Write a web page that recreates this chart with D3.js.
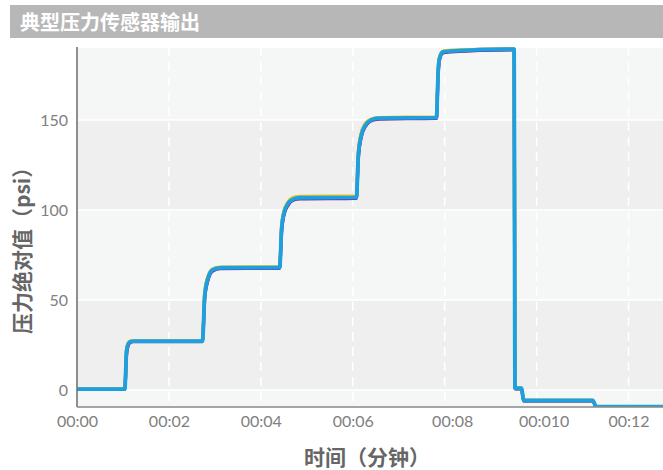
<!DOCTYPE html>
<html>
<head>
<meta charset="utf-8">
<script src="https://cdn.jsdelivr.net/npm/d3@7"></script>
<style>
  html, body { margin: 0; padding: 0; background: #fff; }
  svg { display: block; }
</style>
</head>
<body>
<div id="chart"></div>
<script>
// chart data
const title = "典型压力传感器输出";
const xTitle = "时间（分钟）";
const yTitle = "压力绝对值（psi）";

const xTicks = [0, 2, 4, 6, 8, 10, 12];
const xTickLabels = ["00:00", "00:02", "00:04", "00:06", "00:08", "00:010", "00:12"];
const yTicks = [0, 50, 100, 150];

// minutes, shared by every sensor trace
const times = [0, 1.04, 1.08, 1.14, 1.22, 1.35,
               2.73, 2.78, 2.85, 2.95, 3.11,
               4.41, 4.45, 4.50, 4.59, 4.70, 4.85,
               6.08, 6.12, 6.18, 6.27, 6.40, 6.56,
               7.82, 7.86, 7.89, 7.96, 8.11,
               9.51, 9.53, 9.67, 9.72, 11.22, 11.30, 12.75];

const graySensor   = [0.4, 0.4, 21, 26.2, 27.0, 27.1,
                      27.1, 52, 61, 66.3, 67.6,
                      67.8, 88, 97, 103, 105.7, 106.5,
                      106.7, 129, 140, 146.5, 149.7, 150.7,
                      151.0, 177, 184, 187.4, 188.0,
                      189.1, 0.8, 0.8, -6.0, -6.0, -9.5, -9.5];
const oliveSensor  = [0.6, 0.6, 23, 26.8, 27.3, 27.3,
                      27.3, 54, 63, 67.0, 68.0,
                      68.1, 90, 99, 104, 106.4, 107.1,
                      107.2, 131, 142, 147.4, 150.2, 151.1,
                      151.4, 179, 185, 188.0, 188.5,
                      189.5, 0.8, 0.8, -5.9, -5.9, -9.4, -9.4];
const purpleSensor = [0.3, 0.3, 20, 25.9, 26.8, 26.8,
                      26.9, 51, 61, 66.0, 67.4,
                      67.6, 87, 97, 102.5, 105.4, 106.1,
                      106.4, 128, 140, 146.3, 149.5, 150.5,
                      150.9, 176, 183.5, 187.2, 187.8,
                      189.0, 0.6, 0.6, -6.1, -6.1, -9.5, -9.5];
const yellowSensor = [0.6, 0.6, 23, 27.0, 27.5, 27.5,
                      27.5, 55, 63, 67.3, 68.3,
                      68.4, 91, 99, 104.5, 106.9, 107.6,
                      107.8, 132, 142.5, 148.0, 150.6, 151.4,
                      151.7, 179, 185.2, 188.2, 188.7,
                      189.6, 1.2, 1.2, -5.6, -5.6, -9.2, -9.2];
const blueSensor   = [0.5, 0.5, 22, 26.5, 27.2, 27.2,
                      27.2, 53, 62, 66.7, 67.9,
                      68.0, 89, 98, 103.5, 106, 106.8,
                      107.0, 130, 141, 147, 150, 151,
                      151.3, 178, 184.4, 187.8, 188.3,
                      189.4, 1.0, 1.0, -5.8, -5.8, -9.3, -9.3];

const series = [
  {name: "gray",   values: graySensor,   color: "#8e8e8e", width: 3.2},
  {name: "olive",  values: oliveSensor,  color: "#9c8a3e", width: 3.2},
  {name: "purple", values: purpleSensor, color: "#7a2c92", width: 3.2},
  {name: "yellow", values: yellowSensor, color: "#e7c41f", width: 3.2},
  {name: "blue",   values: blueSensor,   color: "#1ba0e1", width: 3.8}
];

// layout
const W = 663, H = 470;
const plot = {left: 77, right: 663, top: 47, bottom: 407};
const tickNudge = {8: 7.5, 10: 7};   // label shifts seen in the original

const svg = d3.select("#chart")
              .append("svg")
              .attr("width", W)
              .attr("height", H);

const x = d3.scaleLinear()
            .domain([0, 12.75])
            .range([plot.left, plot.right]);
const y = d3.scaleLinear()
            .domain([-10, 190])
            .range([plot.bottom + 1, plot.top + 1]);

// title bar
svg.append("rect")
   .attr("x", 10).attr("y", 5)
   .attr("width", W - 10).attr("height", 33)
   .attr("fill", "#b7b7b7");
svg.append("text")
   .attr("x", 20).attr("y", 30)
   .attr("fill", "#fff")
   .style("font-family", "'Noto Sans CJK SC', sans-serif")
   .style("font-weight", "bold")
   .style("font-size", "20px")
   .text(title);

// alternating horizontal bands
const edges = [y.domain()[0]].concat(yTicks, [y.domain()[1]]);
svg.append("g")
   .selectAll("rect")
   .data(d3.pairs(edges))
   .join("rect")
   .attr("x", plot.left)
   .attr("width", plot.right - plot.left)
   .attr("y", d => y(d[1]))
   .attr("height", d => y(d[0]) - y(d[1]))
   .attr("fill", (d, i) => i % 2 ? "#efefef" : "#f5f6f6");

// grid
svg.append("g")
   .selectAll("line")
   .data(yTicks)
   .join("line")
   .attr("x1", plot.left - 2).attr("x2", plot.right)
   .attr("y1", d => y(d)).attr("y2", d => y(d))
   .attr("stroke", "#fff")
   .attr("stroke-width", 1.5);
svg.append("g")
   .selectAll("line")
   .data(xTicks.slice(1))
   .join("line")
   .attr("x1", d => x(d)).attr("x2", d => x(d))
   .attr("y1", plot.top).attr("y2", plot.bottom)
   .attr("stroke", "#fff")
   .attr("stroke-width", 1.5)
   .attr("stroke-dasharray", "9,6");

// traces
svg.append("clipPath")
   .attr("id", "clip")
   .append("rect")
   .attr("x", plot.left).attr("y", plot.top)
   .attr("width", plot.right - plot.left)
   .attr("height", plot.bottom - plot.top);

const line = d3.line()
               .x((d, i) => x(times[i]))
               .y(d => y(d))
               .curve(d3.curveMonotoneX);

svg.append("g")
   .attr("clip-path", "url(#clip)")
   .selectAll("path")
   .data(series)
   .join("path")
   .attr("d", d => line(d.values))
   .attr("fill", "none")
   .attr("stroke", d => d.color)
   .attr("stroke-width", d => d.width)
   .attr("stroke-linejoin", "round");

// axes
const yAxis = svg.append("g")
                 .attr("transform", "translate(" + plot.left + ",0)")
                 .call(d3.axisLeft(y).tickValues(yTicks).tickSize(0).tickPadding(9));
yAxis.select(".domain")
     .attr("stroke", "#6b6b6b")
     .attr("stroke-width", 1.5)
     .attr("d", "M0," + plot.top + "V" + plot.bottom);

const xAxis = svg.append("g")
                 .attr("transform", "translate(0," + plot.bottom + ")")
                 .call(d3.axisBottom(x)
                         .tickValues(xTicks)
                         .tickSize(0)
                         .tickPadding(9)
                         .tickFormat((d, i) => xTickLabels[i]));
xAxis.select(".domain")
     .attr("stroke", "#8a8a8a")
     .attr("stroke-width", 1.5)
     .attr("d", "M" + plot.left + ",0H" + plot.right);
xAxis.selectAll(".tick text")
     .attr("dx", d => tickNudge[d] || 0);

svg.selectAll(".tick text")
   .attr("fill", "#808080")
   .style("font-family", "Lato, sans-serif")
   .style("font-size", "16px");

// axis titles
svg.append("text")
   .attr("x", 304).attr("y", 465)
   .attr("fill", "#666")
   .style("font-family", "'Noto Sans CJK SC', sans-serif")
   .style("font-weight", "bold")
   .style("font-size", "21px")
   .text(xTitle);
svg.append("text")
   .attr("transform", "translate(30,334) rotate(-90)")
   .attr("fill", "#666")
   .style("font-family", "'Noto Sans CJK SC', sans-serif")
   .style("font-weight", "bold")
   .style("font-size", "21px")
   .text(yTitle);
</script>
</body>
</html>
